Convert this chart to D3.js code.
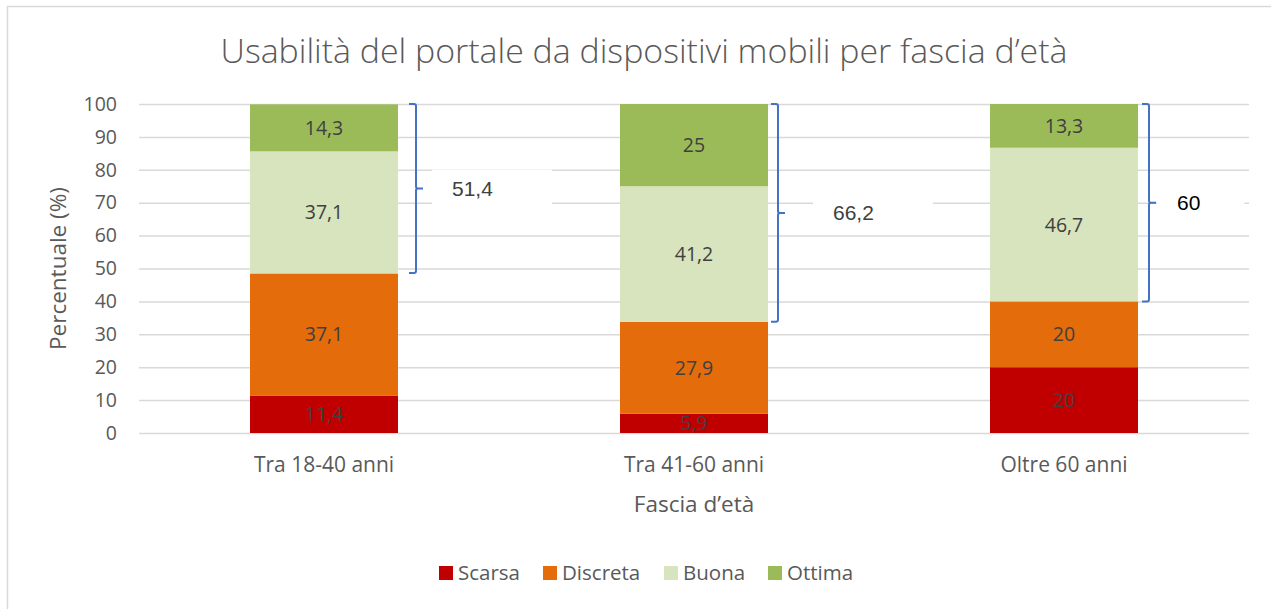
<!DOCTYPE html>
<html lang="it">
<head>
<meta charset="utf-8">
<script src="https://cdn.jsdelivr.net/npm/d3@7"></script>
<style>
  html, body { margin: 0; padding: 0; background: #fff; }
  svg { display: block; }
  text { font-family: "Open Sans", "Noto Sans", sans-serif; }
</style>
</head>
<body>
<svg id="chart" width="1271" height="609"></svg>
<script>
// Age groups on the x axis
const categories = ["Tra 18-40 anni", "Tra 41-60 anni", "Oltre 60 anni"];

// Share of respondents (%) per rating, one value per age group
const scarsa   = [11.4, 5.9, 20];
const discreta = [37.1, 27.9, 20];
const buona    = [37.1, 41.2, 46.7];
const ottima   = [14.3, 25, 13.3];

// Combined "Buona + Ottima" share shown beside each column
const positive = [51.4, 66.2, 60];

const seriesNames = ["Scarsa", "Discreta", "Buona", "Ottima"];
const yTicks = [0, 10, 20, 30, 40, 50, 60, 70, 80, 90, 100];

const colors = {
  Scarsa: "#C00000",
  Discreta: "#E46C0A",
  Buona: "#D7E4BD",
  Ottima: "#9BBB59"
};

const rows = categories.map((c, i) => ({
  cat: c,
  Scarsa: scarsa[i],
  Discreta: discreta[i],
  Buona: buona[i],
  Ottima: ottima[i]
}));

const svg = d3.select("#chart");

// Chart frame
svg.append("rect")
  .attr("x", 7.5).attr("y", 6.5)
  .attr("width", 1300).attr("height", 700)
  .attr("fill", "#fff")
  .attr("stroke", "#D9D9D9").attr("stroke-width", 1.5);

const plot = { left: 139, right: 1249, top: 104, bottom: 433 };

const x = d3.scaleBand()
  .domain(categories)
  .range([plot.left, plot.right])
  .paddingInner(0.6)
  .paddingOuter(0.3);

const y = d3.scaleLinear()
  .domain([0, 100])
  .range([plot.bottom, plot.top]);

// Horizontal gridlines + y tick labels
const yAxis = d3.axisLeft(y)
  .tickValues(yTicks)
  .tickSize(-(plot.right - plot.left))
  .tickPadding(22)
  .tickFormat(d3.format("d"));

const gy = svg.append("g")
  .attr("transform", `translate(${plot.left},0)`)
  .call(yAxis);
gy.select(".domain").remove();
gy.selectAll(".tick line")
  .attr("stroke", "#D9D9D9").attr("stroke-width", 1.5);
gy.selectAll(".tick text")
  .attr("fill", "#595959")
  .style("font-size", "19.5px")
  .style("font-family", "'Open Sans', sans-serif");

// Category labels under the columns
const xAxis = d3.axisBottom(x).tickSize(0).tickPadding(24);
const gx = svg.append("g")
  .attr("transform", `translate(0,${plot.bottom})`)
  .call(xAxis);
gx.select(".domain").remove();
gx.selectAll(".tick text")
  .attr("fill", "#595959")
  .style("font-size", "21px")
  .style("font-family", "'Open Sans', sans-serif");

// Stacked columns
const stack = d3.stack().keys(seriesNames);
const layers = stack(rows);

const layerG = svg.append("g").selectAll("g")
  .data(layers)
  .join("g")
  .attr("fill", d => colors[d.key]);

layerG.selectAll("rect")
  .data(d => d)
  .join("rect")
  .attr("x", d => x(d.data.cat))
  .attr("width", x.bandwidth())
  .attr("y", d => y(d[1]))
  .attr("height", d => y(d[0]) - y(d[1]));

// Value labels inside each segment
const fmt = v => String(v).replace(".", ",");
layerG.selectAll("text")
  .data(d => d.map(s => ({ s, key: d.key })))
  .join("text")
  .attr("x", d => x(d.s.data.cat) + x.bandwidth() / 2)
  .attr("y", d => (y(d.s[0]) + y(d.s[1])) / 2)
  .attr("dy", "0.36em")
  .attr("text-anchor", "middle")
  .attr("fill", "#404040")
  .style("font-size", "19.5px")
  .text(d => fmt(+(d.s[1] - d.s[0]).toFixed(1)));

// Curly brackets grouping Buona + Ottima, with their total
const bracketGap = [18, 10, 11];      // distance from column edge to bracket
const labelGap = [36, 55, 28];        // distance from bracket to label text
const labelColor = ["#404040", "#404040", "#000000"];
const bracketG = svg.append("g");

positive.forEach((v, i) => {
  const bx = x(categories[i]) + x.bandwidth() + bracketGap[i];
  const y0 = y(100);
  const y1 = y(100 - v);
  const ym = (y0 + y1) / 2;
  const p = d3.path();
  p.moveTo(bx - 7, y0);
  p.lineTo(bx - 2, y0);
  p.quadraticCurveTo(bx, y0, bx, y0 + 2);
  p.lineTo(bx, ym - 2);
  p.quadraticCurveTo(bx, ym, bx + 2, ym);
  p.lineTo(bx + 7, ym);
  p.moveTo(bx + 2, ym);
  p.quadraticCurveTo(bx, ym, bx, ym + 2);
  p.lineTo(bx, y1 - 2);
  p.quadraticCurveTo(bx, y1, bx - 2, y1);
  p.lineTo(bx - 7, y1);
  bracketG.append("path")
    .attr("d", p.toString())
    .attr("fill", "none")
    .attr("stroke", "#4472C4")
    .attr("stroke-width", 2);

  const tx = bx + labelGap[i];
  const t = bracketG.append("text")
    .attr("x", tx)
    .attr("y", ym)
    .attr("dy", "0.36em")
    .attr("fill", labelColor[i])
    .style("font-family", "'Liberation Sans', Arial, sans-serif")
    .style("font-size", "21px")
    .text(fmt(v));
  const w = t.node().getComputedTextLength();
  bracketG.insert("rect", "text")
    .attr("x", tx - 20)
    .attr("y", ym - 19)
    .attr("width", w + (i === 2 ? 64 : 79))
    .attr("height", 38)
    .attr("fill", "#fff");
});

// Axis titles
svg.append("text")
  .attr("transform", `translate(66,${(plot.top + plot.bottom) / 2}) rotate(-90)`)
  .attr("text-anchor", "middle")
  .attr("fill", "#595959")
  .style("font-size", "22.5px")
  .text("Percentuale (%)");

svg.append("text")
  .attr("x", (plot.left + plot.right) / 2)
  .attr("y", 512)
  .attr("text-anchor", "middle")
  .attr("fill", "#595959")
  .style("font-size", "22.5px")
  .text("Fascia d’età");

// Title, sized to its measured span
const title = svg.append("text")
  .attr("x", 644)
  .attr("y", 63)
  .attr("text-anchor", "middle")
  .attr("fill", "#595959")
  .style("font-size", "30px")
  .style("font-weight", 300)
  .text("Usabilità del portale da dispositivi mobili per fascia d’età");
const tw = title.node().getComputedTextLength();
title.style("font-size", (30 * 847 / tw).toFixed(2) + "px");

// Legend
const legendX = [439, 543, 664, 768];
const legend = svg.append("g");
seriesNames.forEach((name, i) => {
  legend.append("rect")
    .attr("x", legendX[i]).attr("y", 566)
    .attr("width", 14).attr("height", 14)
    .attr("fill", colors[name]);
  legend.append("text")
    .attr("x", legendX[i] + 19)
    .attr("y", 580)
    .attr("fill", "#595959")
    .style("font-size", "20.5px")
    .text(name);
});
</script>
</body>
</html>
